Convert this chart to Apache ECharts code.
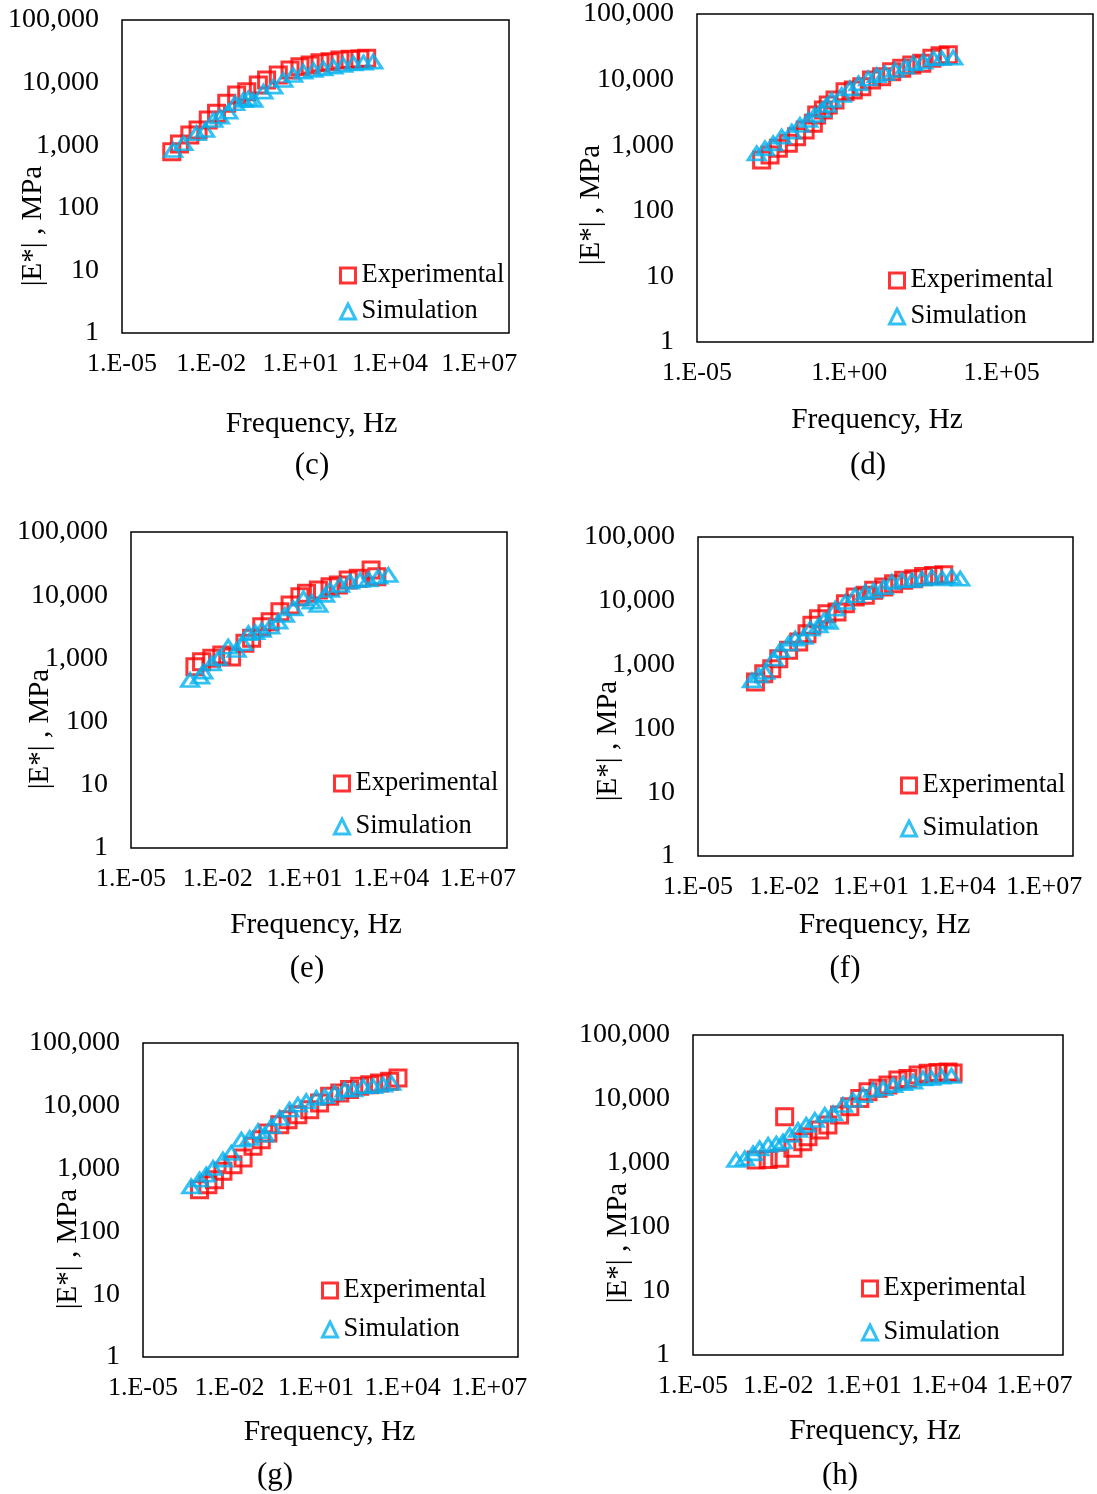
<!DOCTYPE html>
<html>
<head>
<meta charset="utf-8">
<script src="https://cdn.jsdelivr.net/npm/echarts@6/dist/echarts.min.js"></script>
<style>
  html, body { margin: 0; padding: 0; background: #fff; }
  #chart { width: 1097px; height: 1494px; }
</style>
</head>
<body>
<div id="chart"></div>
<script>
// Dynamic modulus master curves |E*| vs reduced frequency, panels (c)–(h)

const panelTags = ['(c)', '(d)', '(e)', '(f)', '(g)', '(h)'];
const seriesNames = ['Experimental', 'Simulation'];
const xTitle = 'Frequency, Hz';
const yTitle = '|E*| , MPa';
const xRange = [1e-5, 1e8];
const yRange = [1, 100000];
const xLabelStep = [3, 5, 3, 3, 3, 3]; // decades between labelled frequency ticks

// (c)
const freqExpC = [4.7e-4, 8.5e-4, 1.9e-3, 3.6e-3, 7.9e-3, 1.5e-2, 3.3e-2, 7.1e-2, 0.155, 0.38, 0.72, 1.78, 4.4, 9.5, 20.9, 44.7, 97.7, 209, 457, 977, 1660];
const modExpC  = [787, 1045, 1455, 1750, 2530, 3230, 4670, 6340, 7160, 9160, 11000, 13200, 15900, 17900, 19100, 20800, 21600, 23000, 23600, 23800, 24400];
const freqSimC = [5.2e-4, 1.15e-3, 3.2e-3, 6.2e-3, 1.17e-2, 1.95e-2, 3.7e-2, 6.3e-2, 0.12, 0.174, 0.257, 0.562, 1.2, 2.63, 5.62, 12.3, 26.9, 57.5, 126, 269, 589, 1290, 2750];
const modSimC  = [838, 1072, 1549, 1750, 2530, 2850, 3430, 4670, 5270, 5610, 5270, 7160, 8610, 11000, 13200, 14900, 15900, 16900, 17900, 19100, 20300, 20800, 21600];

// (d)
const freqExpD = [1.32e-3, 2.5e-3, 4.7e-3, 1.0e-2, 1.86e-2, 3.55e-2, 6.6e-2, 8.5e-2, 0.141, 0.204, 0.339, 0.724, 1.35, 2.57, 5.37, 11.5, 24.5, 52.5, 112, 240, 513, 955, 1780];
const modExpD  = [595, 709, 896, 1068, 1349, 1706, 2155, 2886, 3440, 4100, 4890, 6540, 6940, 7800, 9860, 11100, 13200, 14900, 16700, 17700, 21100, 23000, 24000];
const freqSimD = [9.1e-4, 1.7e-3, 3.16e-3, 6.0e-3, 1.29e-2, 2.4e-2, 4.47e-2, 7.4e-2, 0.123, 0.182, 0.263, 0.562, 1.05, 2.0, 4.17, 7.94, 14.8, 31.6, 67.6, 126, 269, 575, 1070, 2570];
const modSimD  = [752, 896, 1068, 1349, 1607, 2032, 2422, 2886, 3440, 4100, 4890, 5820, 7360, 8770, 10400, 11700, 12500, 14000, 15700, 17700, 18800, 21100, 21300, 21500];

// (e)
const freqExpE = [1.62e-3, 2.75e-3, 6.2e-3, 1.38e-2, 3.0e-2, 8.7e-2, 0.148, 0.331, 0.646, 1.41, 3.16, 6.92, 11.7, 30.2, 75.9, 148, 324, 724, 2000, 3160];
const modExpE  = [739, 887, 1003, 1132, 1050, 1733, 2080, 3180, 3810, 5480, 7000, 9480, 10700, 12100, 13600, 14500, 17400, 18500, 25000, 19600];
const freqSimE = [1.1e-3, 2.45e-3, 3.16e-3, 6.2e-3, 1.05e-2, 2.29e-2, 4.47e-2, 7.6e-2, 0.115, 0.195, 0.331, 0.646, 1.23, 2.09, 4.07, 9.12, 17.8, 30.2, 51.3, 75.9, 170, 372, 832, 1620, 3550, 7940];
const modSimE  = [455, 514, 617, 836, 1003, 1531, 1358, 1733, 2495, 2600, 2813, 3180, 3810, 4860, 6200, 8920, 7900, 7000, 10100, 12100, 14500, 16400, 17400, 17800, 19600, 20900];

// (f)
const freqExpF = [9.8e-4, 1.9e-3, 3.6e-3, 6.3e-3, 1.38e-2, 3.1e-2, 6.0e-2, 8.9e-2, 0.151, 0.295, 0.661, 1.29, 2.82, 6.31, 12.3, 27.5, 60.3, 135, 302, 661, 1480, 3310];
const modExpF  = [534, 721, 863, 1238, 1675, 2260, 3050, 4120, 5250, 6280, 6670, 9010, 11500, 12200, 14600, 16400, 18500, 20900, 22200, 24000, 25000, 25500];
const freqSimF = [7.4e-4, 1.26e-3, 2.14e-3, 4.2e-3, 7.1e-3, 1.38e-2, 2.34e-2, 4.57e-2, 7.8e-2, 0.151, 0.229, 0.339, 0.575, 1.29, 2.82, 6.31, 12.3, 27.5, 52.5, 117, 263, 575, 1290, 2880, 6310, 12300];
const modSimF  = [567, 679, 766, 1238, 1675, 2130, 2550, 2710, 3660, 4120, 4940, 4650, 7530, 9570, 12200, 13700, 14600, 16400, 19700, 20900, 21000, 22200, 23600, 22500, 23800, 22200];

// (g)
const freqExpG = [9.1e-4, 1.78e-3, 3.0e-3, 5.9e-3, 1.32e-2, 2.95e-2, 6.5e-2, 0.126, 0.214, 0.55, 1.07, 2.34, 6.03, 13.2, 29.5, 66.1, 145, 324, 724, 1580, 3550, 6920];
const modExpG  = [462, 555, 667, 904, 1155, 1475, 2261, 2890, 3690, 5010, 6010, 7230, 8670, 11100, 14200, 16000, 18100, 20400, 21700, 23100, 24500, 27700];
const freqSimG = [4.7e-4, 9.1e-4, 1.55e-3, 2.7e-3, 5.9e-3, 1.15e-2, 2.57e-2, 5.0e-2, 9.8e-2, 0.166, 0.282, 0.55, 1.2, 2.34, 4.57, 10.2, 20.0, 43.7, 97.7, 191, 427, 933, 2090, 4070];
const modSimG  = [522, 667, 800, 1023, 1387, 1772, 2890, 3070, 3930, 3470, 4720, 6390, 8670, 10400, 11800, 13300, 14200, 16000, 18100, 18300, 20400, 20600, 21700, 23100];

// (h)
const freqExpH = [1.66e-3, 4.37e-3, 1.12e-2, 1.66e-2, 3.24e-2, 7.2e-2, 0.11, 0.282, 0.55, 1.41, 3.24, 7.24, 14.1, 31.6, 70.8, 158, 355, 813, 1820, 4070, 9120, 13800];
const modExpH  = [1114, 1130, 1183, 5290, 1696, 2155, 2577, 3280, 3930, 5620, 7590, 10200, 13000, 14700, 16500, 19800, 21000, 23700, 25200, 26000, 26500, 25500];
const freqSimH = [3.3e-4, 6.6e-4, 1.29e-3, 2.19e-3, 4.37e-3, 8.5e-3, 1.45e-2, 2.51e-2, 4.9e-2, 9.5e-2, 0.191, 0.427, 0.832, 1.86, 4.17, 9.33, 20.9, 47.9, 107, 240, 537, 1200, 2340, 5370, 12000];
const modSimH  = [1114, 1183, 1416, 1696, 1910, 2000, 2155, 2740, 3280, 3930, 4700, 5620, 5970, 8060, 9640, 11500, 13800, 14700, 16500, 17600, 18700, 21000, 21300, 22300, 23000];

const panelData = [
  [freqExpC, modExpC, freqSimC, modSimC],
  [freqExpD, modExpD, freqSimD, modSimD],
  [freqExpE, modExpE, freqSimE, modSimE],
  [freqExpF, modExpF, freqSimF, modSimF],
  [freqExpG, modExpG, freqSimG, modSimG],
  [freqExpH, modExpH, freqSimH, modSimH]
];

// Panel geometry (px): plot box, legend anchor, title placement
const panels = [
  { box: [122, 20, 387, 313],  legend: [339, 262, 9],  xGap: 76, xShift: -4,  yTitle: [33, 226],  tag: [312, 466] },
  { box: [697, 14, 396, 328],  legend: [888, 267, 9],  xGap: 63, xShift: -18, yTitle: [591, 205], tag: [868, 466] },
  { box: [131, 532, 376, 316], legend: [333, 770, 16], xGap: 62, xShift: -3,  yTitle: [40, 729],  tag: [307, 969] },
  { box: [698, 537, 375, 319], legend: [900, 772, 16], xGap: 54, xShift: -1,  yTitle: [608, 741], tag: [845, 969] },
  { box: [143, 1043, 375, 314], legend: [321, 1277, 12], xGap: 60, xShift: -1, yTitle: [68, 1249], tag: [275, 1476] },
  { box: [693, 1035, 370, 320], legend: [861, 1275, 17], xGap: 61, xShift: -3, yTitle: [618, 1243], tag: [840, 1476] }
];

const FONT = '"Liberation Serif", "Times New Roman", serif';
const RED = '#ff0000';
const BLUE = '#00b0f0';

function expLabel(v, step) {
  const e = Math.round(Math.log10(v));
  if ((((e + 5) % step) + step) % step !== 0) return '';
  const a = Math.abs(e);
  return '1.E' + (e < 0 ? '-' : '+') + (a < 10 ? '0' : '') + a;
}

const zip = (xs, ys) => xs.map((x, i) => [x, ys[i]]);

const grid = [], xAxis = [], yAxis = [], series = [], legend = [], graphic = [];

panels.forEach((p, i) => {
  const [left, top, width, height] = p.box;
  grid.push({ left, top, width, height, show: true, borderColor: '#000', borderWidth: 1.5, containLabel: false });

  xAxis.push({
    type: 'log', logBase: 10, gridIndex: i, min: xRange[0], max: xRange[1], interval: 1,
    axisLine: { show: false }, axisTick: { show: false }, splitLine: { show: false },
    axisLabel: {
      margin: 18, fontFamily: FONT, fontSize: 26, color: '#000',
      showMaxLabel: false,
      formatter: v => expLabel(v, xLabelStep[i])
    },
    name: xTitle, nameLocation: 'middle', nameGap: p.xGap,
    nameTextStyle: {
      fontFamily: FONT, fontSize: 29.5, color: '#000',
      padding: p.xShift < 0 ? [0, -2 * p.xShift, 0, 0] : [0, 0, 0, 2 * p.xShift]
    }
  });

  yAxis.push({
    type: 'log', logBase: 10, gridIndex: i, min: yRange[0], max: yRange[1], interval: 1,
    axisLine: { show: false }, axisTick: { show: false }, splitLine: { show: false },
    axisLabel: {
      margin: 23, fontFamily: FONT, fontSize: 28, color: '#000',
      formatter: v => Math.round(v).toLocaleString('en-US')
    }
  });

  const [fe, me, fs, ms] = panelData[i];
  series.push({
    type: 'scatter', name: seriesNames[0], xAxisIndex: i, yAxisIndex: i,
    symbol: 'rect', symbolSize: 16, silent: true, animation: false,
    itemStyle: { color: 'rgba(255,255,255,0)', borderColor: RED, borderWidth: 3 },
    data: zip(fe, me)
  });
  series.push({
    type: 'scatter', name: seriesNames[1], xAxisIndex: i, yAxisIndex: i,
    symbol: 'triangle', symbolSize: [17, 13], silent: true, animation: false,
    itemStyle: { color: 'rgba(255,255,255,0)', borderColor: BLUE, borderWidth: 3 },
    data: zip(fs, ms)
  });

  legend.push({
    left: p.legend[0], top: p.legend[1], orient: 'vertical', itemGap: p.legend[2],
    itemWidth: 15, itemHeight: 15, padding: 0, selectedMode: false,
    data: seriesNames,
    itemStyle: { borderWidth: 3 },
    textStyle: { fontFamily: FONT, fontSize: 26.5, lineHeight: 26, color: '#000', padding: [0, 0, 0, 1] }
  });

  graphic.push({
    type: 'text', x: p.yTitle[0], y: p.yTitle[1], rotation: Math.PI / 2,
    style: { text: yTitle, font: '29px ' + FONT, fill: '#000', textAlign: 'center', textVerticalAlign: 'middle' }
  });
  graphic.push({
    type: 'text', x: p.tag[0], y: p.tag[1],
    style: { text: panelTags[i], font: '31px ' + FONT, fill: '#000', textAlign: 'center', textVerticalAlign: 'middle' }
  });
});

const chart = echarts.init(document.getElementById('chart'), null, { renderer: 'canvas' });
chart.setOption({
  backgroundColor: '#fff',
  animation: false,
  grid, xAxis, yAxis, series, legend, graphic
});
</script>
</body>
</html>
